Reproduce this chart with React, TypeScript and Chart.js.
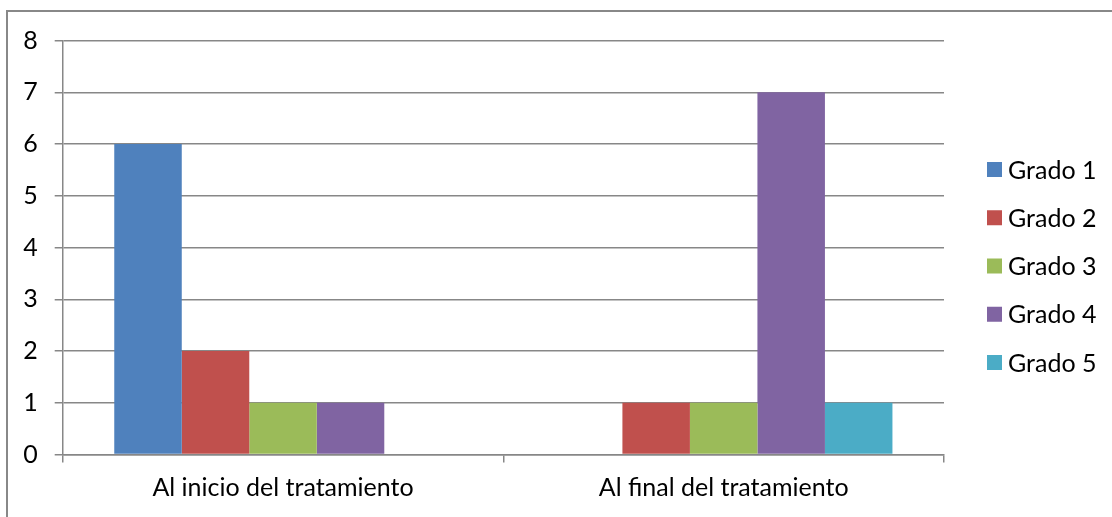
import React, { useEffect, useRef } from "react";
import { Chart, registerables } from "chart.js";

Chart.register(...registerables);

const categories = ["Al inicio del tratamiento", "Al final del tratamiento"];
const seriesNames = ["Grado 1", "Grado 2", "Grado 3", "Grado 4", "Grado 5"];
const grado1 = [6, 0];
const grado2 = [2, 1];
const grado3 = [1, 1];
const grado4 = [1, 7];
const grado5 = [0, 1];
const seriesColors = ["#4F81BD", "#C0504D", "#9BBB59", "#8064A2", "#4BACC6"];

const FONT_FAMILY = "Lato, 'Liberation Sans', sans-serif";
const FONT_SIZE = 25;
const GRID_COLOR = "#878787";

// Legend drawn at the right of the plot, one row per series
const sideLegend = {
  id: "sideLegend",
  afterDraw(chart: any) {
    const ctx = chart.ctx;
    const x0 = 987;
    const firstY = 169.5;
    const step = 48.25;
    ctx.save();
    ctx.font = `${FONT_SIZE}px ${FONT_FAMILY}`;
    ctx.textBaseline = "middle";
    ctx.textAlign = "left";
    chart.data.datasets.forEach((ds: any, i: number) => {
      const cy = firstY + i * step;
      ctx.fillStyle = ds.backgroundColor;
      ctx.fillRect(x0, cy - 7.5, 15, 15);
      ctx.fillStyle = "#000";
      ctx.fillText(ds.label, x0 + 21, cy + 1);
    });
    ctx.restore();
  },
};

export default function App() {
  const canvasRef = useRef<HTMLCanvasElement | null>(null);

  useEffect(() => {
    const canvas = canvasRef.current;
    if (!canvas) return;
    const values = [grado1, grado2, grado3, grado4, grado5];
    const chart = new Chart(canvas, {
      type: "bar",
      data: {
        labels: categories,
        datasets: seriesNames.map((name, i) => ({
          label: name,
          data: values[i],
          backgroundColor: seriesColors[i],
          borderWidth: 0,
          barPercentage: 1,
          categoryPercentage: 0.766,
        })),
      },
      options: {
        responsive: false,
        maintainAspectRatio: false,
        animation: false,
        layout: { padding: { left: 0, top: 40.5, right: 168, bottom: 0 } },
        plugins: {
          legend: { display: false },
          tooltip: { enabled: false },
        },
        scales: {
          x: {
            grid: {
              offset: true,
              drawOnChartArea: false,
              drawTicks: true,
              tickLength: 8,
              color: GRID_COLOR,
              lineWidth: 1.5,
            },
            border: { display: true, color: GRID_COLOR, width: 1.5 },
            ticks: {
              color: "#000",
              padding: 10,
              font: { family: FONT_FAMILY, size: FONT_SIZE },
            },
            afterFit(scale: any) {
              scale.height = 62.5;
            },
          },
          y: {
            min: 0,
            max: 8,
            grid: {
              color: GRID_COLOR,
              lineWidth: 1.5,
              tickLength: 8,
              drawTicks: true,
            },
            border: { display: true, color: GRID_COLOR, width: 1.5 },
            ticks: {
              stepSize: 1,
              color: "#000",
              padding: 17,
              font: { family: FONT_FAMILY, size: FONT_SIZE },
            },
            afterFit(scale: any) {
              scale.width = 62.7;
            },
          },
        },
      },
      plugins: [sideLegend],
    });
    return () => chart.destroy();
  }, []);

  return (
    <div
      style={{
        position: "fixed",
        left: 0,
        top: 0,
        width: 1112,
        height: 517,
        overflow: "hidden",
        background: "#fff",
      }}
    >
      <div
        style={{
          position: "absolute",
          left: 6,
          top: 10,
          width: 1200,
          height: 600,
          border: "2px solid #888888",
        }}
      />
      <canvas
        ref={canvasRef}
        width={1112}
        height={517}
        style={{ position: "absolute", left: 0, top: 0, width: 1112, height: 517 }}
      />
    </div>
  );
}
